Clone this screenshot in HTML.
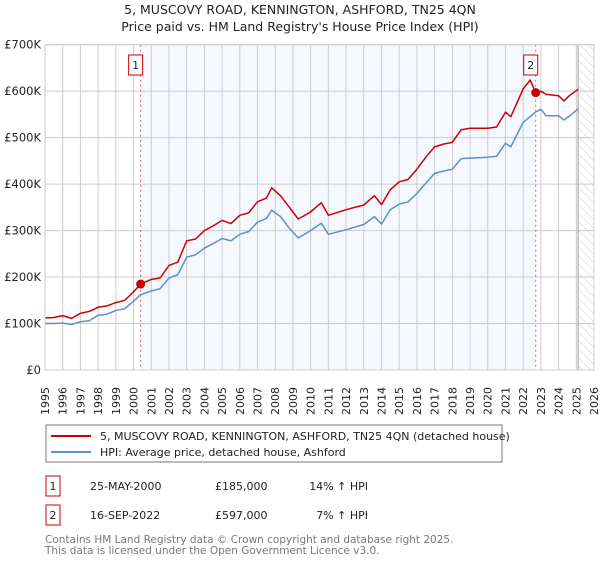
<!DOCTYPE html>
<html><head><meta charset="utf-8"><style>
body{margin:0;background:#fff;font-family:"Liberation Sans","DejaVu Sans",sans-serif;}
svg text{font-family:"DejaVu Sans","Liberation Sans",sans-serif;}
</style></head><body>
<svg width="600" height="560" viewBox="0 0 600 560" xmlns="http://www.w3.org/2000/svg">
<defs><pattern id="hatch" width="6" height="6" patternUnits="userSpaceOnUse" patternTransform="rotate(-45)"><line x1="0" y1="0" x2="0" y2="6" stroke="#ccc" stroke-width="1"/></pattern></defs>
<text x="300" y="14" text-anchor="middle" font-size="12.5" fill="#222">5, MUSCOVY ROAD, KENNINGTON, ASHFORD, TN25 4QN</text>
<text x="300" y="31" text-anchor="middle" font-size="12.5" fill="#222">Price paid vs. HM Land Registry's House Price Index (HPI)</text>
<g id="plot"></g>
<rect x="46" y="425" width="456" height="37" fill="#fff" stroke="#777"/>
<line x1="51" y1="436" x2="91" y2="436" stroke="#cc0000" stroke-width="2"/>
<text x="100" y="440" font-size="11" fill="#222">5, MUSCOVY ROAD, KENNINGTON, ASHFORD, TN25 4QN (detached house)</text>
<line x1="51" y1="452" x2="91" y2="452" stroke="#5b8fd0" stroke-width="2"/>
<text x="100" y="456" font-size="11" fill="#222">HPI: Average price, detached house, Ashford</text>
<g font-size="11" fill="#222">
<rect x="46" y="476" width="14" height="20" fill="#fff" stroke="#cc0000"/>
<text x="53" y="490" text-anchor="middle">1</text>
<text x="90" y="490">25-MAY-2000</text>
<text x="215" y="490">£185,000</text>
<text x="368" y="490" text-anchor="end">14% ↑ HPI</text>
<rect x="46" y="505" width="14" height="20" fill="#fff" stroke="#cc0000"/>
<text x="53" y="519" text-anchor="middle">2</text>
<text x="90" y="519">16-SEP-2022</text>
<text x="215" y="519">£597,000</text>
<text x="368" y="519" text-anchor="end">7% ↑ HPI</text>
</g>
<text x="45" y="543" font-size="10.5" fill="#777">Contains HM Land Registry data © Crown copyright and database right 2025.</text>
<text x="45" y="554" font-size="10.5" fill="#777">This data is licensed under the Open Government Licence v3.0.</text>
</svg>
<script>
const hpiYears=[1995,1995.5,1996,1996.5,1997,1997.5,1998,1998.5,1999,1999.5,2000,2000.4,2001,2001.5,2002,2002.5,2003,2003.5,2004,2004.5,2005,2005.5,2006,2006.5,2007,2007.5,2007.8,2008.3,2008.8,2009.3,2010,2010.6,2011,2012,2013,2013.6,2014,2014.5,2015,2015.5,2016,2016.5,2017,2017.5,2018,2018.5,2019,2020,2020.5,2021,2021.3,2022,2022.7,2023,2023.3,2024,2024.3,2024.6,2025.1];
const hpiValues=[100,100,101,98,104,106,118,120,128,132,148,162,170,175,198,205,243,248,262,272,283,278,292,298,318,326,344,330,305,284,300,316,292,302,313,330,314,345,357,362,380,402,423,428,432,455,456,458,460,488,480,533,555,561,547,547,538,546,562];
const priceYears=[1995,1995.5,1996,1996.5,1997,1997.5,1998,1998.5,1999,1999.5,2000,2000.4,2001,2001.5,2002,2002.5,2003,2003.5,2004,2004.5,2005,2005.5,2006,2006.5,2007,2007.5,2007.8,2008.3,2008.8,2009.3,2010,2010.6,2011,2012,2013,2013.6,2014,2014.5,2015,2015.5,2016,2016.5,2017,2017.5,2018,2018.5,2019,2020,2020.5,2021,2021.3,2022,2022.4,2022.7,2023,2023.3,2024,2024.3,2024.6,2025.1];
const priceValues=[112,113,117,111,122,126,135,138,145,150,168,185,195,198,225,232,278,282,300,310,322,315,333,338,362,370,392,375,350,325,340,360,333,345,355,375,356,388,405,410,432,458,480,486,490,517,520,520,523,555,545,605,624,597,600,593,590,579,590,604];
const sales=[{n:'1',year:2000.4,value:185},{n:'2',year:2022.71,value:597}];
const yTicks=[0,100,200,300,400,500,600,700];
const yTickLabels=['£0','£100K','£200K','£300K','£400K','£500K','£600K','£700K'];
const xTicks=[1995,1996,1997,1998,1999,2000,2001,2002,2003,2004,2005,2006,2007,2008,2009,2010,2011,2012,2013,2014,2015,2016,2017,2018,2019,2020,2021,2022,2023,2024,2025,2026];

const NS='http://www.w3.org/2000/svg';
const L=45,R=594,T=44.7,B=370;
const X0=1995,X1=2026,Y1=700;
const xs=v=>L+(v-X0)/(X1-X0)*(R-L);
const ys=v=>B-v/Y1*(B-T);
const g=document.getElementById('plot');
function mk(tag,attrs){const e=document.createElementNS(NS,tag);for(const k in attrs)e.setAttribute(k,attrs[k]);g.appendChild(e);return e;}
let e;
e=mk('rect',{x:L,y:T,width:R-L,height:B-T,fill:'#fff'});


e=mk('rect',{x:xs(sales[0].year),y:T,width:xs(sales[1].year)-xs(sales[0].year),height:B-T,fill:'#f5f8fe'});


e=mk('rect',{x:xs(2025.1),y:T,width:R-xs(2025.1),height:B-T,fill:'url(#hatch)'});


xTicks.forEach(t=>{
 e=mk('line',{x1:xs(t),x2:xs(t),y1:T,y2:B,stroke:'#ccc','stroke-width':1});
 
 
 e=mk('text',{x:0,y:0,'font-size':11,fill:'#222',transform:`translate(${xs(t)+4},${B+45}) rotate(-90)`});
 e.textContent=t;
 
 
});
yTicks.forEach((t,i)=>{
 e=mk('line',{x1:L,x2:R,y1:ys(t),y2:ys(t),stroke:'#ccc','stroke-width':1});
 
 
 e=mk('text',{x:L-4,y:ys(t)+4,'font-size':11.5,fill:'#222','text-anchor':'end'});
 e.textContent=yTickLabels[i];
 
 
});
e=mk('line',{x1:xs(2025.1),x2:xs(2025.1),y1:T,y2:B,stroke:'#999','stroke-width':1});


sales.forEach(s=>{
 e=mk('line',{x1:xs(s.year),x2:xs(s.year),y1:T,y2:B,stroke:'#e06060','stroke-width':1,'stroke-dasharray':'2,3'});
 
 
});
function path(xsA,vs){return xsA.map((x,i)=>(i?'L':'M')+xs(x).toFixed(1)+','+ys(vs[i]).toFixed(1)).join('');}
e=mk('path',{d:path(hpiYears,hpiValues),fill:'none',stroke:'#5b8fd0','stroke-width':1.5,'stroke-linejoin':'round'});


e=mk('path',{d:path(priceYears,priceValues),fill:'none',stroke:'#cc0000','stroke-width':1.5,'stroke-linejoin':'round'});


sales.forEach(s=>{
 e=mk('circle',{cx:xs(s.year),cy:ys(s.value),r:4.5,fill:'#cc0000'});
 
 
 e=mk('rect',{x:xs(s.year)-12,y:55,width:14,height:20,fill:'#fff',stroke:'#cc0000'});
 
 
 e=mk('text',{x:xs(s.year)-5,y:69,'font-size':11,fill:'#222','text-anchor':'middle'});
 e.textContent=s.n;
 
 
});
e=mk('rect',{x:L,y:T,width:R-L,height:B-T,fill:'none',stroke:'#ccc'});


</script>
</body></html>
